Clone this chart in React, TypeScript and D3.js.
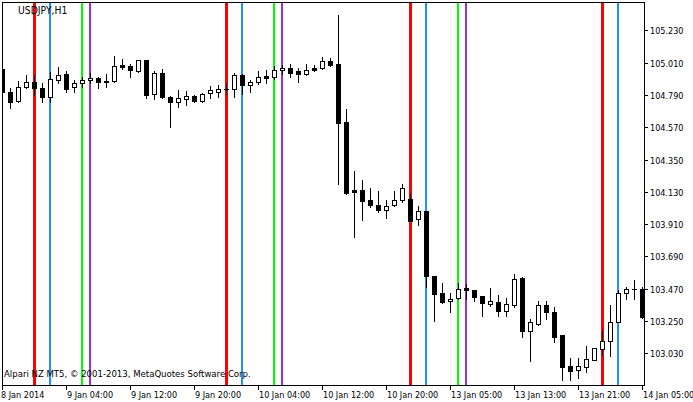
import React from 'react';
import * as d3 from 'd3';

const opens = [104.964,104.808,104.751,104.842,104.878,104.835,104.778,104.889,104.932,104.842,104.869,104.889,104.903,104.885,104.883,104.992,104.987,104.955,105.028,104.794,104.939,104.776,104.740,104.764,104.780,104.748,104.803,104.810,104.830,104.828,104.926,104.860,104.876,104.919,104.914,104.958,104.973,104.955,104.930,104.975,104.971,105.021,105.000,104.605,104.142,104.142,104.072,104.040,104.004,104.038,104.072,104.079,103.943,103.999,103.557,103.441,103.384,103.405,103.475,103.463,103.420,103.368,103.380,103.316,103.357,103.543,103.184,103.230,103.357,103.309,103.155,102.942,102.914,102.940,102.982,103.057,103.114,103.241,103.441,103.466,103.466];
const highs = [104.973,104.837,104.885,104.926,104.926,104.869,104.946,104.978,104.953,104.894,104.912,104.937,104.910,104.930,105.055,105.037,105.000,105.028,105.030,104.955,104.968,104.782,104.823,104.817,104.789,104.803,104.851,104.857,104.869,104.939,104.932,104.894,104.953,104.960,104.987,104.994,104.998,104.975,105.000,104.992,105.048,105.039,105.334,104.694,104.272,104.210,104.156,104.136,104.072,104.136,104.183,104.120,104.033,103.999,103.557,103.509,103.441,103.509,103.502,103.463,103.420,103.475,103.427,103.407,103.570,103.550,103.264,103.384,103.384,103.343,103.155,102.998,102.998,103.078,103.064,103.189,103.359,103.461,103.484,103.529,103.484];
const lows = [104.803,104.703,104.744,104.839,104.789,104.740,104.740,104.873,104.810,104.812,104.842,104.869,104.839,104.846,104.878,104.968,104.914,104.944,104.771,104.764,104.769,104.573,104.710,104.719,104.740,104.742,104.771,104.774,104.794,104.778,104.798,104.808,104.862,104.869,104.896,104.930,104.914,104.880,104.926,104.955,104.966,104.985,104.185,104.115,103.824,103.938,104.029,103.992,103.950,104.033,104.059,103.933,103.906,103.484,103.252,103.371,103.313,103.400,103.400,103.384,103.286,103.352,103.286,103.286,103.348,103.143,102.978,103.221,103.262,103.107,102.848,102.848,102.862,102.903,102.982,103.019,103.014,103.241,103.398,103.398,103.273];
const closes = [104.808,104.744,104.842,104.878,104.837,104.774,104.896,104.928,104.832,104.869,104.889,104.903,104.880,104.876,104.985,104.980,104.958,105.026,104.791,104.941,104.774,104.740,104.767,104.780,104.748,104.798,104.823,104.828,104.829,104.924,104.860,104.878,104.912,104.907,104.960,104.973,104.939,104.930,104.962,104.962,105.021,104.992,104.601,104.124,104.129,104.069,104.038,104.008,104.031,104.072,104.154,103.933,103.997,103.559,103.436,103.382,103.400,103.468,103.459,103.416,103.375,103.386,103.316,103.366,103.536,103.184,103.241,103.359,103.309,103.143,102.939,102.908,102.942,102.989,103.064,103.114,103.243,103.439,103.466,103.467,103.279];

const priceTicks = [105.23, 105.01, 104.79, 104.57, 104.35, 104.13, 103.91, 103.69, 103.47, 103.25, 103.03];
const timeTickIndex = [0, 8, 16, 24, 32, 40, 48, 56, 64, 72, 80];
const timeTickLabels = ['8 Jan 2014', '9 Jan 04:00', '9 Jan 12:00', '9 Jan 20:00', '10 Jan 04:00', '10 Jan 12:00', '10 Jan 20:00', '13 Jan 05:00', '13 Jan 13:00', '13 Jan 21:00', '14 Jan 05:00'];

const redLines = [4, 28, 51, 75];
const blueLines = [6, 30, 53, 77];
const greenLines = [10, 34, 57];
const purpleLines = [11, 35, 58];

const symbolLabel = 'USDJPY,H1';
const copyrightLabel = 'Alpari NZ MT5, © 2001-2013, MetaQuotes Software Corp.';

const W = 693;
const H = 402;
const PL = 2, PT = 2, PR = 644, PB = 385;
const FONT = "Tahoma, 'DejaVu Sans Condensed', 'Liberation Sans', sans-serif";

export default function App() {
  const x = d3.scaleLinear().domain([0, 80]).range([2, 642]);
  const y = d3.scaleLinear().domain([103.03, 105.23]).range([353.3, 30.3]);

  const vline = (idx: number[], color: string, w: number) =>
    idx.map((i) => {
      const cx = Math.round(x(i)) + (w % 2 === 1 ? 0.5 : 0);
      return <line key={color + i} x1={cx} x2={cx} y1={PT} y2={PB} stroke={color} strokeWidth={w} />;
    });

  const candles = opens.map((o, i) => {
    const c = closes[i];
    const cx = Math.round(x(i));
    const yh = Math.round(y(highs[i]));
    const yl = Math.round(y(lows[i]));
    const t = Math.round(y(Math.max(o, c)));
    const b = Math.round(y(Math.min(o, c)));
    const bear = c < o;
    const parts: React.ReactNode[] = [];
    parts.push(<line key="w" x1={cx + 0.5} x2={cx + 0.5} y1={yh} y2={yl + 1} stroke="#000" strokeWidth={1} />);
    if (b - t < 1) {
      parts.push(<rect key="d" x={cx - 2} y={t} width={5} height={1} fill="#000" />);
    } else if (bear) {
      parts.push(<rect key="b" x={cx - 2} y={t} width={5} height={b - t + 1} fill="#000" />);
    } else {
      parts.push(<rect key="b" x={cx - 1.5} y={t + 0.5} width={4} height={b - t} fill="#fff" stroke="#000" strokeWidth={1} />);
    }
    return <g key={i}>{parts}</g>;
  });

  return (
    <svg width={W} height={H} style={{ position: 'fixed', left: 0, top: 0, background: '#fff' }} shapeRendering="crispEdges">
      <rect x={0} y={0} width={W} height={H} fill="#fff" />
      <defs>
        <clipPath id="plot">
          <rect x={PL} y={PT} width={PR - PL} height={PB - PT} />
        </clipPath>
      </defs>
      <g clipPath="url(#plot)">
        {vline(redLines, '#ff0000', 3)}
        {vline(blueLines, '#1e90ff', 2)}
        {vline(greenLines, '#00ff00', 2)}
        {vline(purpleLines, '#9932cc', 2)}
        {candles}
      </g>
      <rect x={PL + 0.5} y={PT + 0.5} width={PR - PL} height={PB - PT - 0.5} fill="none" stroke="#000" strokeWidth={1} />
      {priceTicks.map((p) => {
        const yy = Math.round(y(p)) + 0.5;
        return (
          <g key={p}>
            <line x1={PR} x2={PR + 4} y1={yy} y2={yy} stroke="#000" />
            <text x={PR + 6} y={yy + 3.5} fontFamily={FONT} fontSize={9} fill="#000">{p.toFixed(3)}</text>
          </g>
        );
      })}
      {timeTickIndex.map((ti, k) => {
        const xx = Math.round(x(ti)) + 0.5;
        return (
          <g key={ti}>
            <line x1={xx} x2={xx} y1={PB} y2={PB + 5} stroke="#000" />
            <text x={k === 0 ? 1 : xx + 0.5} y={397.5} fontFamily={FONT} fontSize={9} fill="#000">{timeTickLabels[k]}</text>
          </g>
        );
      })}
      <text x={18} y={13.5} fontFamily={FONT} fontSize={10.3} fill="#000">{symbolLabel}</text>
      <text x={4} y={377} fontFamily={FONT} fontSize={9.5} fill="#000">{copyrightLabel}</text>
    </svg>
  );
}
